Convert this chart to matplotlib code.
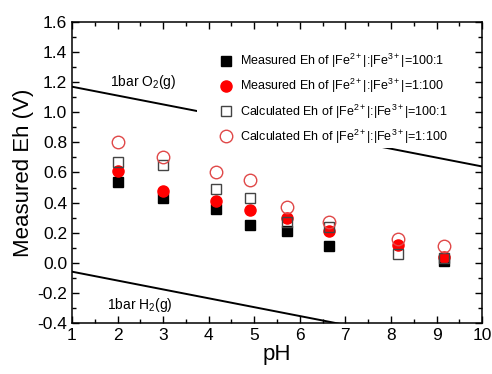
import numpy as np
import matplotlib.pyplot as plt
from matplotlib.ticker import MultipleLocator
from matplotlib.patches import Rectangle

plt.rcParams['font.family'] = ['Liberation Sans', 'DejaVu Sans']
plt.rcParams['mathtext.fontset'] = 'custom'
plt.rcParams['mathtext.rm'] = 'Liberation Sans'
plt.rcParams['mathtext.it'] = 'Liberation Sans'

# data
ph = [2.0, 3.0, 4.17, 4.9, 5.72, 6.64, 8.16, 9.17]
meas_100_1 = [0.54, 0.43, 0.36, 0.25, 0.21, 0.11, np.nan, 0.01]
meas_1_100 = [0.61, 0.48, 0.41, 0.35, 0.30, 0.21, 0.12, 0.04]
calc_100_1 = [0.67, 0.65, 0.49, 0.43, 0.27, 0.24, 0.06, 0.03]
calc_1_100 = [0.80, 0.70, 0.60, 0.55, 0.37, 0.27, 0.16, 0.11]

# water stability limits
ph_line = [1, 10]
o2_line = [1.17, 0.64]
h2_line = [-0.059, -0.59]

fig = plt.figure(figsize=(4.92, 3.74), dpi=100)
ax = fig.add_axes([0.1463, 0.1364, 0.8337, 0.8048])

ax.plot(ph_line, o2_line, color='black', lw=1.4, zorder=1)
ax.plot(ph_line, h2_line, color='black', lw=1.4, zorder=1)

# white box behind the legend (hides part of the O2 line, like the original)
ax.add_patch(Rectangle((0.305, 0.581), 0.636, 0.353, transform=ax.transAxes,
                       facecolor='white', edgecolor='none', zorder=2))

ax.plot(ph, meas_100_1, 's', color='black', ms=7, ls='none',
        label='Measured Eh of |Fe$^{2+}$|:|Fe$^{3+}$|=100:1', zorder=3)
ax.plot(ph, meas_1_100, 'o', color='red', ms=8, ls='none',
        label='Measured Eh of |Fe$^{2+}$|:|Fe$^{3+}$|=1:100', zorder=4)
ax.plot(ph, calc_100_1, 's', mfc='none', mec='#444444', mew=1.0, ms=7, ls='none',
        label='Calculated Eh of |Fe$^{2+}$|:|Fe$^{3+}$|=100:1', zorder=5)
ax.plot(ph, calc_1_100, 'o', mfc='none', mec='#e04848', mew=1.0, ms=9, ls='none',
        label='Calculated Eh of |Fe$^{2+}$|:|Fe$^{3+}$|=1:100', zorder=5)

ax.text(1.83, 1.2, '1bar O$_2$(g)', fontsize=10, va='center')
ax.text(1.77, -0.28, '1bar H$_2$(g)', fontsize=10, va='center')

ax.set_xlim(1, 10)
ax.set_ylim(-0.4, 1.6)
ax.xaxis.set_major_locator(MultipleLocator(1))
ax.xaxis.set_minor_locator(MultipleLocator(0.5))
ax.yaxis.set_major_locator(MultipleLocator(0.2))
ax.yaxis.set_minor_locator(MultipleLocator(0.1))
ax.yaxis.set_major_formatter(plt.FuncFormatter(lambda v, p: f'{v:.1f}'))
ax.tick_params(which='both', direction='in', top=True, right=True, labelsize=12.5)
ax.tick_params(which='major', length=5, width=1)
ax.tick_params(which='minor', length=3, width=1)
for s in ax.spines.values():
    s.set_linewidth(1.1)

ax.set_xlabel('pH', fontsize=16, labelpad=1)
ax.set_ylabel('Measured Eh (V)', fontsize=16, labelpad=2)

leg = ax.legend(loc='upper left', bbox_to_anchor=(0.334, 0.937), fontsize=9,
                handlelength=1.0, handletextpad=0.6, labelspacing=0.55,
                borderpad=0.4, frameon=False)
leg.set_zorder(10)

fig.savefig('out.png', dpi=100)
